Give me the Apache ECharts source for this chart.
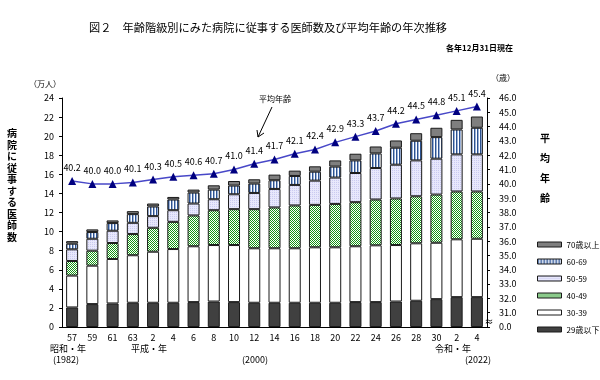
<!DOCTYPE html>
<html><head><meta charset="utf-8">
<script src="https://cdn.jsdelivr.net/npm/echarts@6/dist/echarts.min.js"></script>
<style>html,body{margin:0;padding:0;background:#fff}#c{width:600px;height:380px}</style>
</head><body><div id="c"></div>
<script>
// ---- data ----
const years = [1982,1984,1986,1988,1990,1992,1994,1996,1998,2000,2002,2004,2006,2008,2010,2012,2014,2016,2018,2020,2022];
const tickLabels = ['57','59','61','63','2','4','6','8','10','12','14','16','18','20','22','24','26','28','30','2','4'];
const seriesNames = ['29歳以下','30-39','40-49','50-59','60-69','70歳以上'];
const u29 = [2.05,2.40,2.47,2.54,2.54,2.54,2.61,2.67,2.61,2.54,2.54,2.54,2.54,2.54,2.61,2.61,2.67,2.75,2.92,3.13,3.13];
const a30 = [3.34,4.03,4.66,4.98,5.35,5.63,5.85,5.92,5.98,5.71,5.71,5.71,5.81,5.81,5.85,5.95,5.92,6.02,5.91,6.06,6.12];
const a40 = [1.53,1.57,1.67,2.22,2.51,2.85,3.23,3.65,3.76,4.10,4.28,4.49,4.45,4.55,4.62,4.80,4.88,4.93,5.05,5.01,4.95];
const a50 = [1.22,1.25,1.29,1.18,1.22,1.22,1.25,1.15,1.56,1.70,1.94,2.15,2.54,2.76,3.06,3.30,3.54,3.76,3.76,3.89,3.89];
const a60 = [0.59,0.70,0.80,0.91,1.01,1.12,1.15,1.01,0.91,0.98,0.91,0.94,0.94,1.15,1.32,1.53,1.78,2.06,2.26,2.61,2.79];
const o70 = [0.27,0.28,0.28,0.31,0.31,0.27,0.31,0.45,0.48,0.45,0.59,0.56,0.56,0.65,0.70,0.73,0.76,0.79,0.98,1.01,1.18];
const avgAge = [40.2,40.0,40.0,40.1,40.3,40.5,40.6,40.7,41.0,41.4,41.7,42.1,42.4,42.9,43.3,43.7,44.2,44.5,44.8,45.1,45.4];
const leftTicks = {min:0, max:24, interval:2};
const rightTicks = {min:30, max:46, interval:1};

// ---- styles ----
const FONT = '"Noto Sans CJK JP", "Noto Sans", sans-serif';
function pattern(w,h,draw){const c=document.createElement('canvas');c.width=w;c.height=h;const g=c.getContext('2d');draw(g);return {image:c,repeat:'repeat'};}
const greenPat = pattern(2,2,g=>{g.fillStyle='#ffffff';g.fillRect(0,0,2,2);g.fillStyle='#159515';g.fillRect(0,0,1,1);g.fillRect(1,1,1,1);});
const bluePat = pattern(3,1,g=>{g.fillStyle='#ffffff';g.fillRect(0,0,3,1);g.fillStyle='#2c5290';g.fillRect(0,0,1,1);g.fillStyle='#9cb2d8';g.fillRect(1,0,1,1);});
const lavPat = pattern(2,2,g=>{g.fillStyle='#e8e8fc';g.fillRect(0,0,2,2);g.fillStyle='#cacaf0';g.fillRect(0,0,1,1);});
const fills = ['#404040','#ffffff',greenPat,lavPat,bluePat,'#7f7f7f'];
const values = [u29,a30,a40,a50,a60,o70];

const chart = echarts.init(document.getElementById('c'), null, {renderer:'canvas'});
const barSeries = seriesNames.map((n,i)=>({
  name:n, type:'bar', stack:'t', barWidth:12, data:values[i],
  itemStyle:{color:fills[i], borderColor:'#1a1a1a', borderWidth:1},
  emphasis:{disabled:true}
}));

const txt = (x,y,text,extra)=>({type:'text',x:x,y:y,style:Object.assign({text:text,font:'9px '+FONT,fill:'#000',textAlign:'center',textVerticalAlign:'middle'},extra||{})});

chart.setOption({
  animation:false,
  title:{text:'図２　年齢階級別にみた病院に従事する医師数及び平均年齢の年次推移',left:84,top:17,
    textStyle:{fontFamily:FONT,fontSize:11.2,fontWeight:'normal',color:'#000'}},
  grid:{left:62,right:113,top:98,bottom:53},
  legend:{orient:'vertical',left:532,top:234,itemWidth:24,itemHeight:5,itemGap:6,icon:'rect',
    data:seriesNames.slice().reverse(),selectedMode:false,
    itemStyle:{borderColor:'#1a1a1a',borderWidth:1},
    textStyle:{fontFamily:FONT,fontSize:8,color:'#000',lineHeight:11}},
  xAxis:{type:'category',data:years,
    axisLine:{lineStyle:{color:'#000'}},axisTick:{show:false},
    axisLabel:{formatter:(v,i)=>tickLabels[i],fontFamily:FONT,fontSize:9,color:'#000',margin:6,interval:0}},
  yAxis:[
    {type:'value',min:leftTicks.min,max:leftTicks.max,interval:leftTicks.interval,
     axisLine:{show:true,lineStyle:{color:'#000'}},axisTick:{show:true,length:3,lineStyle:{color:'#000'}},
     splitLine:{show:false},axisLabel:{fontFamily:FONT,fontSize:9,color:'#000',margin:8}},
    {type:'value',min:rightTicks.min,max:rightTicks.max,interval:rightTicks.interval,position:'right',
     axisLine:{show:true,lineStyle:{color:'#000'}},axisTick:{show:true,length:3,lineStyle:{color:'#000'}},
     splitLine:{show:false},
     axisLabel:{fontFamily:FONT,fontSize:9,color:'#000',margin:12,
       formatter:v=>v===rightTicks.min?'0.0':v.toFixed(1)}}
  ],
  series:barSeries.concat([{
    name:'平均年齢',type:'line',yAxisIndex:1,data:avgAge,z:5,
    symbol:'triangle',symbolSize:8,itemStyle:{color:'#000080'},
    lineStyle:{color:'#4848c8',width:1.5},
    label:{show:true,position:'top',distance:5,formatter:p=>p.value.toFixed(1),fontFamily:FONT,fontSize:9,color:'#000'},
    emphasis:{disabled:true}
  }]),
  graphic:[
    txt(12,185,'病\n院\nに\n従\n事\nす\nる\n医\n師\n数',{font:'bold 10px '+FONT,lineHeight:11.5}),
    txt(545,168,'平\n\n均\n\n年\n\n齢',{font:'bold 10px '+FONT,lineHeight:10}),
    txt(45,84,'（万人）',{font:'8px '+FONT}),
    txt(503,78,'（歳）',{font:'8px '+FONT}),
    txt(513,48,'各年12月31日現在',{font:'bold 8px '+FONT,textAlign:'right'}),
    txt(68,349,'昭和・年'),
    txt(149,349,'平成・年'),
    txt(453,349,'令和・年'),
    txt(66,360,'(1982)'),
    txt(255,360,'(2000)'),
    txt(478,360,'(2022)'),
    txt(489,322,'≈',{font:'9px '+FONT}),
    txt(275,99,'平均年齢',{font:'8px '+FONT}),
    {type:'line',shape:{x1:272,y1:107,x2:258,y2:137},style:{stroke:'#000',lineWidth:1}},
    {type:'polyline',shape:{points:[[257,130],[258,137],[264,133]]},style:{stroke:'#000',lineWidth:1,fill:null}}
  ]
});
</script></body></html>
